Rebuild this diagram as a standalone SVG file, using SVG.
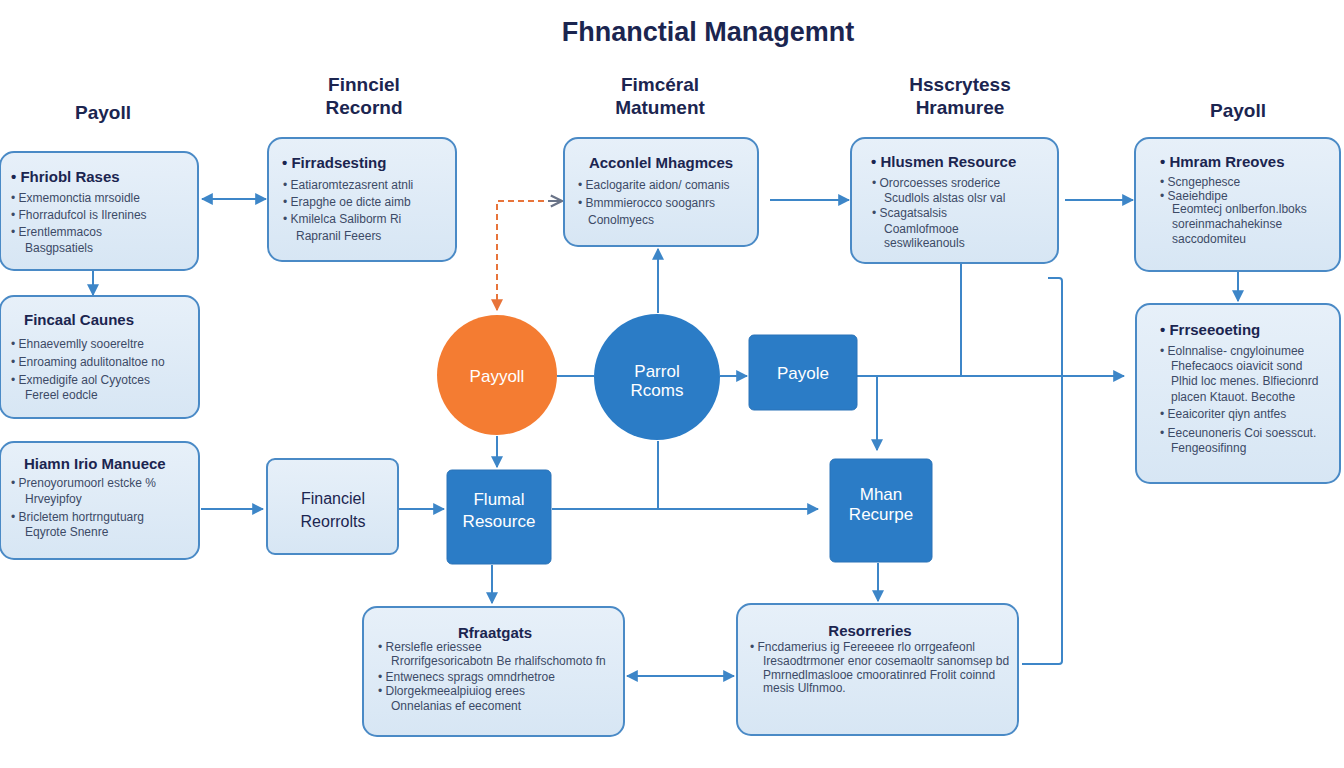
<svg xmlns="http://www.w3.org/2000/svg" width="1344" height="768" viewBox="0 0 1344 768">
<defs>
<linearGradient id="lg" x1="0" y1="0" x2="0" y2="1">
<stop offset="0" stop-color="#e7f0f9"/>
<stop offset="1" stop-color="#d7e6f4"/>
</linearGradient>
<marker id="ah" viewBox="0 0 10 10" refX="9" refY="5" markerWidth="6" markerHeight="6" orient="auto-start-reverse">
<path d="M0,0 L10,5 L0,10 z" fill="#3d86c8"/>
</marker>
<marker id="ao" viewBox="0 0 10 10" refX="9" refY="5" markerWidth="6" markerHeight="6" orient="auto-start-reverse">
<path d="M0,0 L10,5 L0,10 z" fill="#e8743a"/>
</marker>
<marker id="ag" viewBox="0 0 10 10" refX="9" refY="5" markerWidth="7" markerHeight="7" orient="auto">
<path d="M1,1 L9,5 L1,9" fill="none" stroke="#6a7488" stroke-width="1.6"/>
</marker>
</defs>
<style>
.lb{fill:url(#lg);stroke:#4a8ac6;stroke-width:2}
.db{fill:#2b7cc6;stroke:#2a73b8;stroke-width:1}
.t{font-family:"Liberation Sans",Arial,sans-serif;fill:#1b2550}
.h{font-size:19px;font-weight:bold;text-anchor:middle}
.bt{font-size:15px;font-weight:bold}
.b{font-size:12px;fill:#3c4a66}
.w{font-family:"Liberation Sans",Arial,sans-serif;fill:#ffffff;font-size:17px;text-anchor:middle}
.c{fill:none;stroke:#3d86c8;stroke-width:2}
</style>
<rect width="1344" height="768" fill="#ffffff"/>
<text class="t" x="708" y="41" font-size="27" font-weight="bold" text-anchor="middle">Fhnanctial Managemnt</text>
<text class="t h" x="103" y="119">Payoll</text>
<text class="t h" x="364" y="91">Finnciel</text>
<text class="t h" x="364" y="114">Recornd</text>
<text class="t h" x="660" y="91">Fimcéral</text>
<text class="t h" x="660" y="114">Matument</text>
<text class="t h" x="960" y="91">Hsscrytess</text>
<text class="t h" x="960" y="114">Hramuree</text>
<text class="t h" x="1238" y="117">Payoll</text>

<g id="connectors">
<line class="c" x1="202" y1="199" x2="266" y2="199" marker-start="url(#ah)" marker-end="url(#ah)"/>
<line class="c" x1="93" y1="271" x2="93" y2="295" marker-end="url(#ah)"/>
<line class="c" x1="201" y1="509" x2="263" y2="509" marker-end="url(#ah)"/>
<line class="c" x1="399" y1="509" x2="444" y2="509" marker-end="url(#ah)"/>
<path d="M497,310 V201 H560" fill="none" stroke="#e8743a" stroke-width="2" stroke-dasharray="6,4" marker-start="url(#ao)"/>
<line x1="548" y1="201" x2="562" y2="201" stroke="#6a7488" stroke-width="2" marker-end="url(#ag)"/>
<line class="c" x1="497" y1="436" x2="497" y2="467" marker-end="url(#ah)"/>
<line class="c" x1="557" y1="376" x2="594" y2="376"/>
<line class="c" x1="658" y1="313" x2="658" y2="249" marker-end="url(#ah)"/>
<line class="c" x1="720" y1="376" x2="747" y2="376" marker-end="url(#ah)"/>
<line class="c" x1="658" y1="441" x2="658" y2="509"/>
<line class="c" x1="552" y1="509" x2="818" y2="509" marker-end="url(#ah)"/>
<line class="c" x1="770" y1="200" x2="849" y2="200" marker-end="url(#ah)"/>
<line class="c" x1="1065" y1="200" x2="1133" y2="200" marker-end="url(#ah)"/>
<line class="c" x1="1238" y1="272" x2="1238" y2="301" marker-end="url(#ah)"/>
<line class="c" x1="961" y1="264" x2="961" y2="376"/>
<line class="c" x1="857" y1="376" x2="1124" y2="376" marker-end="url(#ah)"/>
<line class="c" x1="877" y1="376" x2="877" y2="450" marker-end="url(#ah)"/>
<line class="c" x1="878" y1="563" x2="878" y2="601" marker-end="url(#ah)"/>
<line class="c" x1="492" y1="565" x2="492" y2="603" marker-end="url(#ah)"/>
<line class="c" x1="627" y1="676" x2="734" y2="676" marker-start="url(#ah)" marker-end="url(#ah)"/>
<path class="c" d="M1048,278 H1059 Q1062,278 1062,281 V661 Q1062,664 1059,664 H1022"/>
</g>

<g id="n1">
<rect class="lb" x="0" y="152" width="198" height="118" rx="14"/>
<text class="t bt" x="11" y="182">• Fhriobl Rases</text>
<text class="t b" x="11" y="202">•  Exmemonctia mrsoidle</text>
<text class="t b" x="11" y="219">•  Fhorradufcol is Ilrenines</text>
<text class="t b" x="11" y="236">•  Erentlemmacos</text>
<text class="t b" x="25" y="252">Basgpsatiels</text>
</g>
<g id="n2">
<rect class="lb" x="268" y="138" width="188" height="123" rx="14"/>
<text class="t bt" x="282" y="168">• Firradsesting</text>
<text class="t b" x="283" y="189">•  Eatiaromtezasrent atnli</text>
<text class="t b" x="283" y="206">•  Erapghe oe dicte aimb</text>
<text class="t b" x="283" y="223">•  Kmilelca Saliborm Ri</text>
<text class="t b" x="296" y="240">Rapranil Feeers</text>
</g>
<g id="n3">
<rect class="lb" x="564" y="138" width="194" height="108" rx="14"/>
<text class="t bt" x="661" y="168" text-anchor="middle">Acconlel Mhagmces</text>
<text class="t b" x="578" y="189">•  Eaclogarite aidon/ comanis</text>
<text class="t b" x="578" y="207">•  Bmmmierocco sooganrs</text>
<text class="t b" x="588" y="224">Conolmyecs</text>
</g>
<g id="n4">
<rect class="lb" x="851" y="138" width="207" height="125" rx="14"/>
<text class="t bt" x="871" y="167">• Hlusmen Resource</text>
<text class="t b" x="872" y="187">•  Ororcoesses sroderice</text>
<text class="t b" x="884" y="202">Scudlols alstas olsr val</text>
<text class="t b" x="872" y="217">•  Scagatsalsis</text>
<text class="t b" x="884" y="233">Coamlofmooe</text>
<text class="t b" x="884" y="247">seswlikeanouls</text>
</g>
<g id="n5">
<rect class="lb" x="1135" y="138" width="205" height="133" rx="14"/>
<text class="t bt" x="1160" y="167">• Hmram Rreoves</text>
<text class="t b" x="1160" y="186">•  Scngephesce</text>
<text class="t b" x="1160" y="200">•  Saeiehdipe</text>
<text class="t b" x="1172" y="213">Eeomtecj onlberfon.lboks</text>
<text class="t b" x="1172" y="228">soreinmachahekinse</text>
<text class="t b" x="1172" y="243">saccodomiteu</text>
</g>
<g id="n6">
<rect class="lb" x="0" y="296" width="199" height="122" rx="14"/>
<text class="t bt" x="24" y="325">Fincaal Caunes</text>
<text class="t b" x="11" y="348">•  Ehnaevemlly sooereltre</text>
<text class="t b" x="11" y="366">•  Enroaming adulitonaltoe no</text>
<text class="t b" x="11" y="384">•  Exmedigife aol Cyyotces</text>
<text class="t b" x="25" y="399">Fereel eodcle</text>
</g>
<g id="n7">
<rect class="lb" x="0" y="442" width="199" height="117" rx="14"/>
<text class="t bt" x="24" y="469">Hiamn Irio Manuece</text>
<text class="t b" x="11" y="487">•  Prenoyorumoorl estcke %</text>
<text class="t b" x="25" y="503">Hrveyipfoy</text>
<text class="t b" x="11" y="521">•  Bricletem hortrngutuarg</text>
<text class="t b" x="25" y="536">Eqyrote Snenre</text>
</g>
<g id="n8">
<rect class="lb" x="267" y="459" width="131" height="95" rx="8"/>
<text class="t" x="333" y="504" font-size="16" text-anchor="middle">Financiel</text>
<text class="t" x="333" y="527" font-size="16" text-anchor="middle">Reorrolts</text>
</g>
<g id="n9">
<rect class="lb" x="1136" y="304" width="204" height="179" rx="14"/>
<text class="t bt" x="1160" y="335">• Frrseeoeting</text>
<text class="t b" x="1160" y="355">•  Eolnnalise- cngyloinumee</text>
<text class="t b" x="1171" y="370">Fhefecaocs oiavicit sond</text>
<text class="t b" x="1171" y="385">Plhid loc menes. Blfiecionrd</text>
<text class="t b" x="1171" y="401">placen Ktauot. Becothe</text>
<text class="t b" x="1160" y="418">•  Eeaicoriter qiyn antfes</text>
<text class="t b" x="1160" y="437">•  Eeceunoneris Coi soesscut.</text>
<text class="t b" x="1171" y="452">Fengeosifinng</text>
</g>
<g id="n10">
<rect class="lb" x="363" y="607" width="261" height="129" rx="14"/>
<text class="t bt" x="495" y="638" text-anchor="middle">Rfraatgats</text>
<text class="t b" x="378" y="651">•  Rerslefle eriessee</text>
<text class="t b" x="391" y="665">Rrorrifgesoricabotn Be rhalifschomoto fn</text>
<text class="t b" x="378" y="681">•  Entwenecs sprags omndrhetroe</text>
<text class="t b" x="378" y="695">•  Dlorgekmeealpiuiog erees</text>
<text class="t b" x="391" y="710">Onnelanias ef eecoment</text>
</g>
<g id="n11">
<rect class="lb" x="737" y="604" width="281" height="131" rx="14"/>
<text class="t bt" x="870" y="636" text-anchor="middle">Resorreries</text>
<text class="t b" x="750" y="651">•  Fncdamerius ig Fereeeee rlo orrgeafeonl</text>
<text class="t b" x="763" y="665">Iresaodtrmoner enor cosemaoltr sanomsep bd</text>
<text class="t b" x="763" y="679">Pmrnedlmaslooe cmooratinred Frolit coinnd</text>
<text class="t b" x="763" y="692">mesis Ulfnmoo.</text>
</g>
<g id="c1">
<circle cx="497" cy="375" r="60" fill="#f47c32"/>
<text class="w" x="497" y="382" font-size="19">Payyoll</text>
</g>
<g id="c2">
<circle cx="657" cy="377" r="63" fill="#2b7cc6"/>
<text class="w" x="657" y="377">Parrol</text>
<text class="w" x="657" y="396">Rcoms</text>
</g>
<g id="r1">
<rect class="db" x="749" y="335" width="108" height="75" rx="5"/>
<text class="w" x="803" y="379" font-size="19">Payole</text>
</g>
<g id="r2">
<rect class="db" x="447" y="470" width="104" height="94" rx="5"/>
<text class="w" x="499" y="505">Flumal</text>
<text class="w" x="499" y="527" font-size="15">Resource</text>
</g>
<g id="r3">
<rect class="db" x="830" y="459" width="102" height="103" rx="5"/>
<text class="w" x="881" y="500" font-size="16">Mhan</text>
<text class="w" x="881" y="520" font-size="15">Recurpe</text>
</g>
</svg>
